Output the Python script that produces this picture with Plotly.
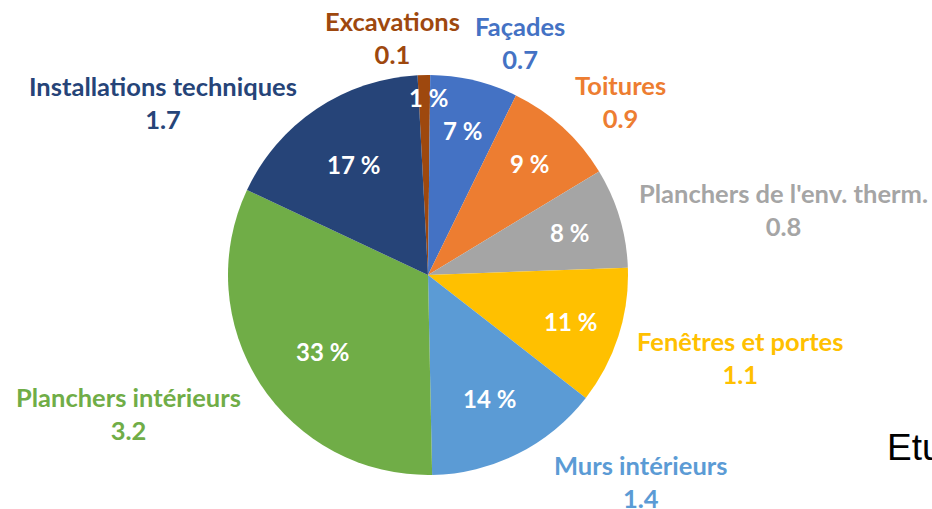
import math
import plotly.graph_objects as go

# ---- data ----
categories = ["Excavations", "Façades", "Toitures", "Planchers de l'env. therm.",
              "Fenêtres et portes", "Murs intérieurs", "Planchers intérieurs",
              "Installations techniques"]
values = [0.1, 0.7, 0.9, 0.8, 1.1, 1.4, 3.2, 1.7]
percent_labels = ["1 %", "7 %", "9 %", "8 %", "11 %", "14 %", "33 %", "17 %"]
side_text = "Etu"

# ---- style / layout ----
colors = ["#9E480E", "#4472C4", "#ED7D31", "#A5A5A5", "#FFC000", "#5B9BD5",
          "#70AD47", "#264478"]
W, H = 932, 509
CX, CY, R = 428, 275, 200
ROT = -3
inside_frac = [0.89, 0.745, 0.755, 0.74, 0.75, 0.69, 0.655, 0.665]
inside_dang = [1.5, 0, 0, 0, 0, 0, -3, 0]
outside_pos = [(392, 37), (520, 43), (620, 101), (783, 209), (740, 357),
               (640, 481), (128, 413), (163, 102)]
FONT = "Lato"
FS_IN = 24
FS_OUT = 25.5

fig = go.Figure(go.Pie(
    labels=categories, values=values, sort=False, direction="clockwise",
    rotation=ROT, marker=dict(colors=colors, line=dict(width=0)),
    textinfo="none", hoverinfo="label+value+percent", showlegend=False,
    domain=dict(x=[(CX - R) / W, (CX + R) / W], y=[1 - (CY + R) / H, 1 - (CY - R) / H]),
))

total = sum(values)
cum = 0.0
ann = []
for i, v in enumerate(values):
    mid = math.radians(ROT + (cum + v / 2) / total * 360 + inside_dang[i])
    cum += v
    r = R * inside_frac[i]
    px = CX + r * math.sin(mid)
    py = CY - r * math.cos(mid)
    ann.append(dict(x=px / W, y=1 - py / H, xref="paper", yref="paper",
                    text=f"<b>{percent_labels[i]}</b>", showarrow=False,
                    font=dict(family=FONT, size=FS_IN, color="white"),
                    xanchor="center", yanchor="middle"))
    ox, oy = outside_pos[i]
    ann.append(dict(x=ox / W, y=1 - oy / H, xref="paper", yref="paper",
                    text=f"<b>{categories[i]}</b><br><b>{values[i]}</b>",
                    showarrow=False, align="center",
                    font=dict(family=FONT, size=FS_OUT, color=colors[i]),
                    xanchor="center", yanchor="middle"))

ann.append(dict(x=885 / W, y=1 - 470 / H, xref="paper", yref="paper",
                text=side_text, showarrow=False, xanchor="left", yanchor="bottom",
                font=dict(family="Liberation Sans", size=37, color="black")))

fig.update_layout(width=W, height=H, margin=dict(l=0, r=0, t=0, b=0),
                  paper_bgcolor="white", plot_bgcolor="white", annotations=ann)
fig.write_html("out.html", config={"displayModeBar": False},
               post_script="document.body.style.margin='0';document.body.style.overflow='hidden';")
